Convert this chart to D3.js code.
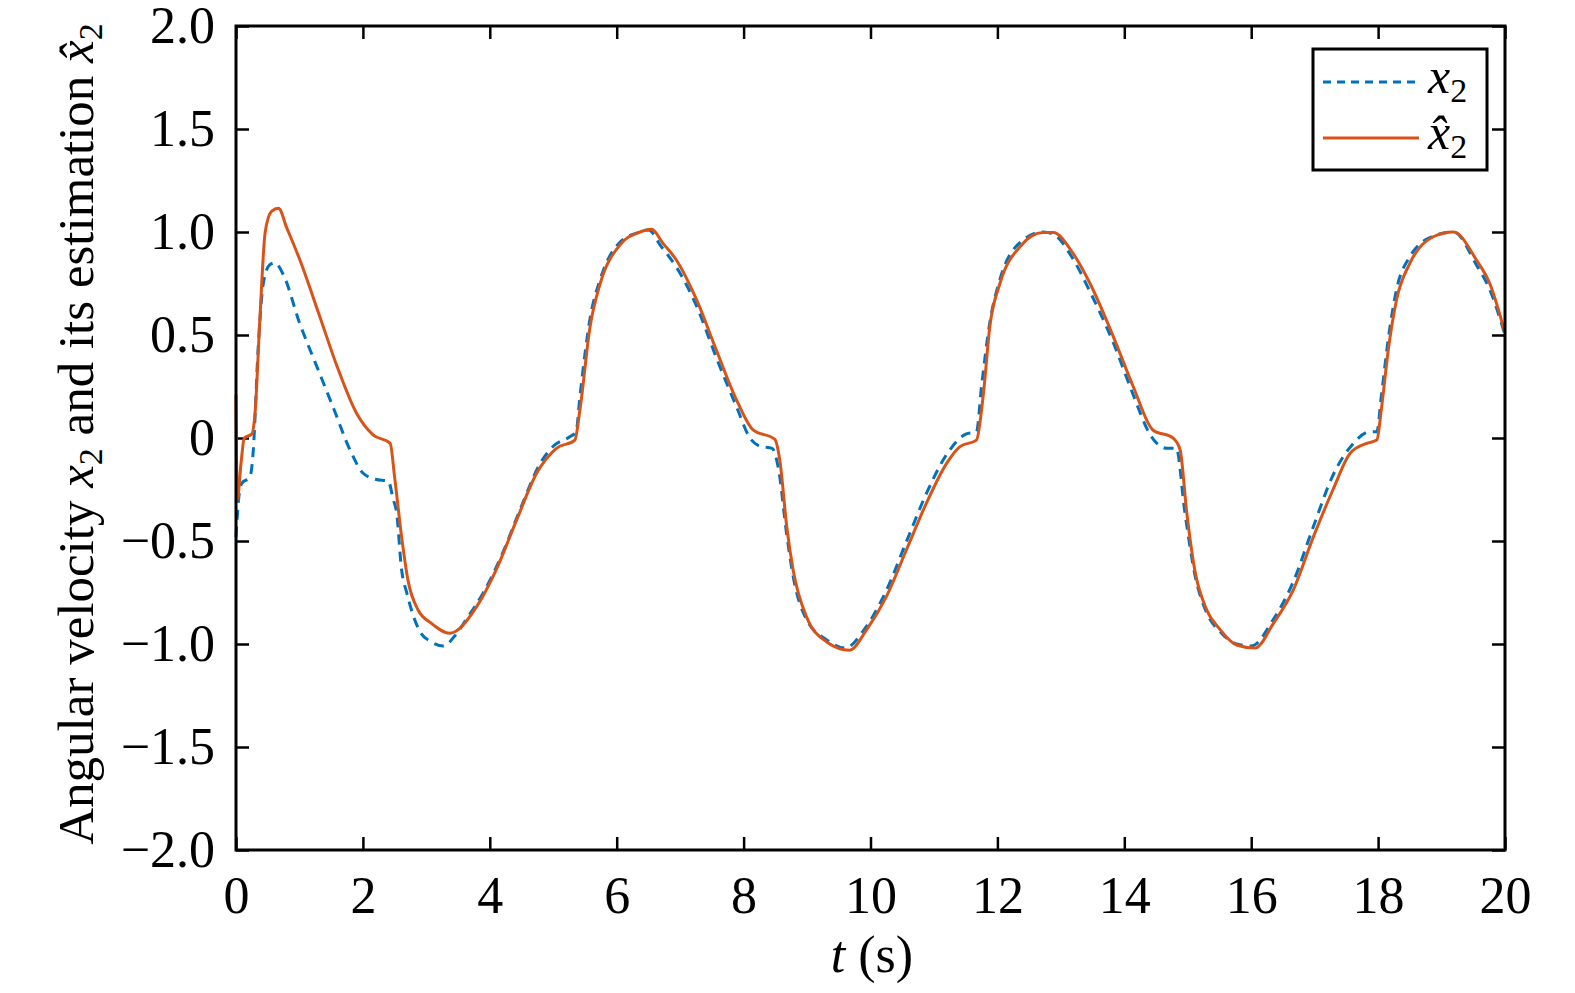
<!DOCTYPE html>
<html>
<head>
<meta charset="utf-8">
<script src="https://cdn.jsdelivr.net/npm/d3@7"></script>
<style>
  body { margin: 0; background: #fff; }
  svg { display: block; font-family: "Liberation Serif", serif; }
  .tick text { font-size: 52px; fill: #000; }
</style>
</head>
<body>
<svg id="chart" width="1575" height="993"></svg>
<script>
// x2 (true angular velocity)
var tX2 = [0, 0.04, 0.09, 0.22, 0.27, 0.35, 0.43, 0.53, 0.61, 0.75, 1.0, 1.27, 1.53, 1.8, 2.0, 2.2, 2.4, 2.48, 2.53, 2.61, 2.69, 2.9, 3.08, 3.27, 3.45, 3.63, 3.9, 4.2, 4.5, 4.8, 5.0, 5.26, 5.36, 5.42, 5.58, 5.74, 6.05, 6.37, 6.5, 6.7, 6.94, 7.26, 7.57, 7.89, 8.1, 8.26, 8.45, 8.55, 8.68, 8.78, 8.99, 9.31, 9.6, 9.9, 10.25, 10.57, 10.88, 11.2, 11.51, 11.67, 11.75, 11.88, 12.04, 12.36, 12.72, 12.88, 13.19, 13.46, 13.83, 14.14, 14.4, 14.67, 14.82, 14.95, 15.11, 15.3, 15.51, 15.77, 16.0, 16.35, 16.66, 16.98, 17.29, 17.6, 17.87, 17.98, 18.05, 18.16, 18.29, 18.5, 18.87, 19.19, 19.55, 19.76, 20];
var x2 = [-0.48, -0.3, -0.22, -0.19, -0.07, 0.44, 0.75, 0.84, 0.85, 0.79, 0.56, 0.35, 0.15, -0.06, -0.17, -0.2, -0.21, -0.30, -0.36, -0.64, -0.75, -0.94, -0.99, -1.01, -0.96, -0.88, -0.75, -0.56, -0.33, -0.12, -0.04, 0.006, 0.03, 0.2, 0.58, 0.77, 0.95, 1.0, 1.01, 0.93, 0.83, 0.64, 0.39, 0.15, 0.0, -0.04, -0.05, -0.15, -0.47, -0.67, -0.88, -0.98, -1.02, -0.93, -0.74, -0.50, -0.27, -0.08, 0.02, 0.03, 0.25, 0.56, 0.77, 0.95, 1.0, 0.99, 0.87, 0.71, 0.46, 0.21, 0.02, -0.05, -0.05, -0.35, -0.66, -0.85, -0.94, -1.0, -1.01, -0.88, -0.70, -0.43, -0.18, -0.03, 0.03, 0.03, 0.2, 0.48, 0.72, 0.88, 0.98, 1.0, 0.84, 0.72, 0.50];

// x2 hat (observer estimate)
var tHat = [0, 0.02, 0.08, 0.13, 0.25, 0.3, 0.38, 0.46, 0.56, 0.67, 0.8, 1.0, 1.32, 1.59, 1.9, 2.16, 2.43, 2.5, 2.61, 2.71, 2.87, 3.08, 3.37, 3.79, 4.1, 4.42, 4.74, 5.05, 5.34, 5.42, 5.58, 5.74, 6.05, 6.37, 6.55, 6.73, 6.94, 7.26, 7.57, 7.89, 8.15, 8.49, 8.57, 8.68, 8.78, 8.99, 9.31, 9.67, 9.94, 10.25, 10.57, 10.88, 11.2, 11.41, 11.67, 11.78, 11.88, 12.04, 12.36, 12.72, 12.88, 13.19, 13.46, 13.83, 14.14, 14.45, 14.77, 14.88, 14.98, 15.11, 15.3, 15.51, 15.77, 16.06, 16.35, 16.66, 16.98, 17.29, 17.56, 17.82, 17.98, 18.05, 18.16, 18.29, 18.5, 18.87, 19.19, 19.55, 19.76, 20];
var x2Hat = [0.21, -0.3, -0.12, 0.0, 0.02, 0.12, 0.6, 1.0, 1.10, 1.115, 1.02, 0.87, 0.59, 0.35, 0.12, 0.015, -0.026, -0.19, -0.48, -0.69, -0.835, -0.90, -0.948, -0.82, -0.64, -0.40, -0.17, -0.05, -0.01, 0.136, 0.54, 0.75, 0.937, 1.0, 1.013, 0.945, 0.864, 0.67, 0.427, 0.184, 0.039, -0.006, -0.107, -0.43, -0.64, -0.867, -0.99, -1.03, -0.93, -0.77, -0.54, -0.317, -0.123, -0.042, -0.01, 0.217, 0.54, 0.75, 0.93, 0.997, 0.997, 0.897, 0.75, 0.49, 0.25, 0.039, -0.001, -0.058, -0.35, -0.64, -0.835, -0.93, -1.005, -1.02, -0.90, -0.74, -0.48, -0.25, -0.074, -0.026, -0.01, 0.136, 0.427, 0.67, 0.848, 0.977, 1.0, 0.864, 0.75, 0.51];

var xTicks = [0, 2, 4, 6, 8, 10, 12, 14, 16, 18, 20];
var yTicks = [-2.0, -1.5, -1.0, -0.5, 0, 0.5, 1.0, 1.5, 2.0];

var blue = '#0072BD', orange = '#D95319';
var plotLeft = 236, plotRight = 1505, plotTop = 26, plotBottom = 850;

var svg = d3.select('#chart');

var x = d3.scaleLinear().domain([0, 20]).range([plotLeft, plotRight]);
var y = d3.scaleLinear().domain([-2, 2]).range([plotBottom, plotTop]);

var yFmt = function (d) { return d === 0 ? '0' : d3.format('.1f')(d); };

// axes, ticks drawn inward
var gB = svg.append('g').attr('transform', 'translate(0,' + plotBottom + ')')
    .call(d3.axisBottom(x).tickValues(xTicks).tickSize(-13).tickPadding(26).tickFormat(d3.format('d')));
var gT = svg.append('g').attr('transform', 'translate(0,' + plotTop + ')')
    .call(d3.axisTop(x).tickValues(xTicks).tickSize(-13).tickFormat(''));
var gL = svg.append('g').attr('transform', 'translate(' + plotLeft + ',0)')
    .call(d3.axisLeft(y).tickValues(yTicks).tickSize(-13).tickPadding(21).tickFormat(yFmt));
var gR = svg.append('g').attr('transform', 'translate(' + plotRight + ',0)')
    .call(d3.axisRight(y).tickValues(yTicks).tickSize(-13).tickFormat(''));

[gB, gT, gL, gR].forEach(function (g) {
    g.select('.domain').remove();
    g.selectAll('.tick line').attr('stroke', '#000').attr('stroke-width', 2.5);
    g.selectAll('.tick text').attr('font-family', 'Liberation Serif, serif');
});

// lines
var line = d3.line()
    .x(function (d) { return x(d[0]); })
    .y(function (d) { return y(d[1]); })
    .curve(d3.curveMonotoneX);

svg.append('path')
    .datum(tX2.map(function (t, i) { return [t, x2[i]]; }))
    .attr('d', line)
    .attr('fill', 'none')
    .attr('stroke', blue)
    .attr('stroke-width', 3)
    .attr('stroke-dasharray', '10,7');

svg.append('path')
    .datum(tHat.map(function (t, i) { return [t, x2Hat[i]]; }))
    .attr('d', line)
    .attr('fill', 'none')
    .attr('stroke', orange)
    .attr('stroke-width', 3);

// frame
svg.append('rect')
    .attr('x', plotLeft).attr('y', plotTop)
    .attr('width', plotRight - plotLeft).attr('height', plotBottom - plotTop)
    .attr('fill', 'none').attr('stroke', '#000').attr('stroke-width', 3);

// axis titles
var xt = svg.append('text')
    .attr('x', 872).attr('y', 972)
    .attr('text-anchor', 'middle')
    .attr('font-size', 52);
xt.append('tspan').attr('font-style', 'italic').text('t');
xt.append('tspan').text(' (s)');

var yt = svg.append('text')
    .attr('transform', 'translate(93,434) rotate(-90)')
    .attr('text-anchor', 'middle')
    .attr('font-size', 51);
yt.append('tspan').text('Angular velocity ');
yt.append('tspan').attr('font-style', 'italic').text('x');
yt.append('tspan').attr('font-size', 34).attr('dy', 9).text('2');
yt.append('tspan').attr('dy', -9).text(' and its estimation ');
yt.append('tspan').attr('font-style', 'italic').text('x\u0302');
yt.append('tspan').attr('font-size', 34).attr('dy', 9).text('2');

// legend
var legend = svg.append('g');
legend.append('rect')
    .attr('x', 1313).attr('y', 49).attr('width', 174).attr('height', 121)
    .attr('fill', '#fff').attr('stroke', '#000').attr('stroke-width', 3);

var legendItems = [
    { label: 'x', color: blue, dash: '8,6', y: 82 },
    { label: 'x\u0302', color: orange, dash: null, y: 138 }
];
legendItems.forEach(function (it) {
    legend.append('line')
        .attr('x1', 1323).attr('x2', 1419).attr('y1', it.y).attr('y2', it.y)
        .attr('stroke', it.color).attr('stroke-width', 3)
        .attr('stroke-dasharray', it.dash);
    var tx = legend.append('text')
        .attr('x', 1428).attr('y', it.y + 11)
        .attr('font-size', 50);
    tx.append('tspan').attr('font-style', 'italic').text(it.label);
    tx.append('tspan').attr('font-size', 34).attr('dy', 9).text('2');
});
</script>
</body>
</html>
